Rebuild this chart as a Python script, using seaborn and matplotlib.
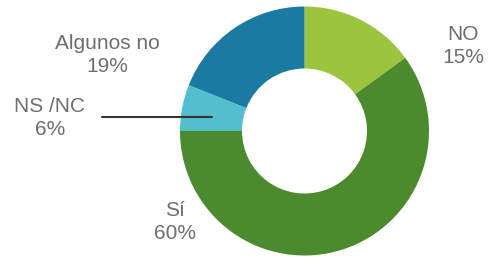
import matplotlib
matplotlib.use("Agg")
import matplotlib.pyplot as plt
import seaborn as sns

labels = ["NO", "Sí", "NS /NC", "Algunos no"]
values = [15, 60, 6, 19]
colors = ["#9cc43e", "#4b8b2e", "#52bfcd", "#1b7aa1"]

sns.set_theme(style="white")
plt.rcParams['font.family'] = ['Liberation Sans', 'DejaVu Sans']

W, H = 491, 258
fig = plt.figure(figsize=(W / 100, H / 100), dpi=100)
ax = fig.add_axes([0, 0, 1, 1])

cx, cy, R = 304.5, 127, 124.5
ax.pie(values, colors=colors, startangle=90, counterclock=False,
       center=(cx, cy), radius=R, frame=True,
       wedgeprops=dict(width=62, linewidth=0))
ax.set_xlim(0, W)
ax.set_ylim(0, H)
ax.set_aspect("equal")
ax.axis("off")

tc = "#6e6e6e"
fs = 15
pos = {"NO": (463, 212), "Sí": (175, 36), "NS /NC": (50, 140), "Algunos no": (107, 203)}
for lab, v in zip(labels, values):
    x, y = pos[lab]
    ax.text(x, y, f"{lab}\n{v}%", ha="center", va="center", fontsize=fs,
            color=tc, linespacing=1.25)

ax.plot([102, 212], [141, 141], color="#333333", lw=1.5)

fig.savefig("out.png", dpi=100)
